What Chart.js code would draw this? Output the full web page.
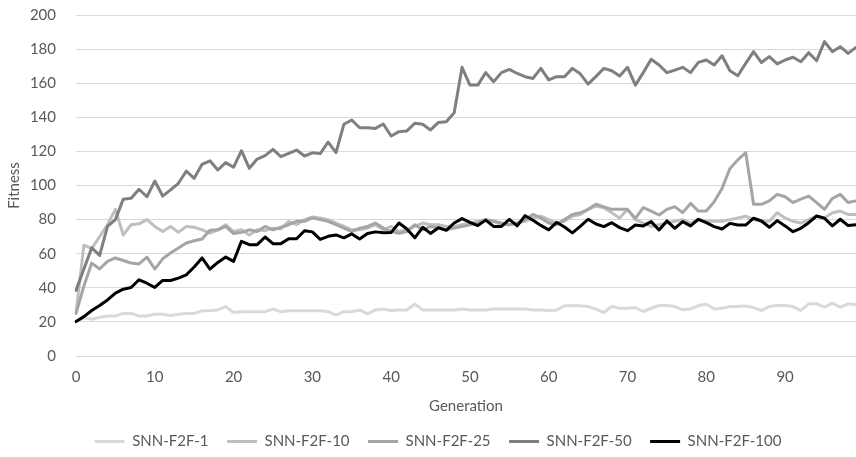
<!DOCTYPE html>
<html>
<head>
<meta charset="utf-8">
<title>Fitness by generation</title>
<script src="https://cdn.jsdelivr.net/npm/chart.js@4.4.1/dist/chart.umd.min.js"></script>
<style>
    html, body { margin: 0; padding: 0; background: #fff; overflow: hidden; }
    #wrap { width: 856px; height: 457px; overflow: hidden; }
</style>
</head>
<body>
<div id="wrap"><canvas id="fitnessChart" width="860" height="457"></canvas></div>
<script>
// Generations 0..99 (x categories)
const generations = Array.from({ length: 100 }, (_, i) => i);

// Series values
const snn1 = [20, 22.5, 21.6, 22.7, 23.5, 23.5, 25, 25, 23.5, 23.5, 24.5, 24.5, 23.7, 24.5, 25, 25, 26.5, 26.5, 27, 29,
    25.5, 26, 26, 26, 26, 27.5, 26, 26.5, 26.5, 26.5, 26.5, 26.5, 26, 24, 26, 26, 27, 24.7, 27, 27.5,
    26.7, 27, 27, 30.5, 27, 27, 27, 27, 27, 27.5, 27, 27, 27, 27.5, 27.6, 27.5, 27.5, 27.5, 27, 27,
    26.7, 27, 29.4, 29.4, 29.4, 29, 27.5, 25.5, 29, 28, 28, 28.4, 26.1, 28, 29.6, 29.6, 29, 27.1, 27.6, 29.6,
    30.4, 27.6, 28, 29, 29, 29.4, 28.4, 26.7, 29, 29.6, 29.6, 29, 26.7, 30.6, 30.6, 28.6, 31, 28.6, 30.6, 30];

const snn10 = [25, 65, 63, 70, 77, 86, 71, 77, 77.5, 80, 76, 73, 76, 72.5, 76, 75.5, 74, 72, 74, 77,
    73, 74, 71, 74, 73.5, 75, 74.5, 79, 77, 80, 81.6, 81, 80, 78, 76, 74, 74, 75, 77, 74,
    76, 73, 74, 76, 78, 77, 77, 76, 76, 77, 78, 79, 80, 79, 77, 77, 78, 79, 81, 82,
    80, 78, 79, 82, 83, 86, 88, 87, 84, 81, 86, 80, 78, 76, 77, 78, 79, 80, 78, 80,
    79, 79, 79, 80, 81, 82, 80, 79, 79, 84, 81, 79, 78, 80, 82, 81, 84, 85, 83, 83];

const snn25 = [25, 41, 54.5, 51, 55.5, 57.5, 56, 54.5, 54, 58, 51, 57, 60.4, 63.3, 66.3, 67.6, 68.6, 73.7, 74, 76,
    71.8, 72.5, 74, 73, 76, 74, 75.5, 77, 79, 79, 81, 80, 79, 77, 75, 73, 75, 76, 78, 75,
    73, 72, 73, 77, 74, 76, 75, 74, 75, 76, 77, 78, 80, 79, 78, 77, 78, 80, 83, 81,
    78, 77, 80, 83, 84, 86, 89, 87.5, 86, 86, 86, 80.7, 87, 85, 82.7, 86, 87.6, 84.1, 89.5, 85,
    85, 90.5, 98.3, 110, 115, 119.3, 89, 89, 91, 94.8, 93.4, 90, 92, 93.8, 90, 86, 92.4, 94.8, 90, 91];

const snn50 = [38.5, 51, 63.5, 59, 76, 80, 92, 92.5, 97.8, 93.4, 102.6, 93.8, 97.4, 101.3, 108.5, 104.2, 112.4, 114.5, 109.1, 113.4,
    110.7, 120.4, 110.1, 115.5, 117.5, 121.2, 116.9, 118.9, 120.8, 117.3, 119.2, 118.7, 125.5, 119.3, 135.9, 138.4, 133.9, 133.9, 133.5, 136.1,
    129, 131.6, 132, 136.5, 135.9, 132.6, 137, 137.4, 142.7, 169.3, 158.9, 158.9, 166.2, 160.9, 166.2, 168.1, 165.7, 163.8, 162.8, 168.7,
    161.9, 163.8, 163.8, 168.7, 165.5, 159.5, 164, 168.7, 167.3, 164.2, 169.3, 158.9, 166.2, 174, 170.7, 166.2, 167.7, 169.3, 166.2, 172.2,
    173.6, 170.7, 176.1, 167.3, 164.4, 171.6, 178.5, 172.1, 175.6, 171.3, 173.6, 175.2, 172.6, 177.9, 173.2, 184.4, 178.5, 181.4, 177.5, 181];

const snn100 = [20.2, 23.1, 26.7, 29.6, 32.9, 36.9, 39.2, 40.2, 44.7, 42.7, 40.2, 44.3, 44.3, 45.7, 47.6, 52.2, 57.5, 51, 54.9, 58,
    55.5, 67.3, 65.3, 65.3, 69.8, 65.9, 65.9, 68.8, 68.8, 73.5, 72.8, 68.4, 70.2, 71, 69.3, 71.6, 68.6, 71.8, 72.8, 72.3,
    72.5, 78, 74.5, 69.3, 75.5, 71.9, 75.2, 73.7, 78, 80.6, 78.4, 76.5, 79.7, 76, 76, 80.1, 76.3, 82.3, 79.6, 76.6,
    74, 78.4, 75.7, 72.2, 76, 80.2, 77.4, 75.9, 78.2, 75.3, 73.5, 76.8, 76.3, 78.8, 73.9, 79.2, 74.9, 78.8, 76.3, 80.2,
    78.2, 75.9, 74.5, 77.8, 76.8, 76.8, 80.8, 79.2, 75.5, 79.4, 76.3, 72.9, 74.9, 78.2, 82.1, 80.8, 76.3, 80.2, 76.5, 77];

const seriesNames = ['SNN-F2F-1', 'SNN-F2F-10', 'SNN-F2F-25', 'SNN-F2F-50', 'SNN-F2F-100'];
const seriesColors = ['#d9d9d9', '#bfbfbf', '#a5a5a5', '#7f7f7f', '#000000'];
const seriesValues = [snn1, snn10, snn25, snn50, snn100];

const yTicks = { min: 0, max: 200, step: 20 };
const xLabelStep = 10;

const textColor = '#595959';
const gridColor = '#d9d9d9';
const baseFont = { family: 'Lato, "Open Sans", sans-serif', size: 15 };

// legend in the original sits a little right of and below the default spot
const legendShift = {
    id: 'legendShift',
    afterLayout: function(chart) {
        chart.legend.left += 8;
        chart.legend.right += 8;
        chart.legend.top += 2;
        chart.legend.bottom += 2;
    }
};

document.addEventListener('DOMContentLoaded', function() {
    const ctx = document.getElementById('fitnessChart');

    const datasets = seriesNames.map(function(name, i) {
        return {
            label: name,
            data: seriesValues[i],
            borderColor: seriesColors[i],
            backgroundColor: seriesColors[i],
            borderWidth: 3,
            pointRadius: 0,
            tension: 0,
            borderJoinStyle: 'round',
            borderCapStyle: 'round',
            // later series drawn on top, like the original
            order: seriesNames.length - i
        };
    });

    new Chart(ctx, {
        type: 'line',
        data: {
            labels: generations,
            datasets: datasets
        },
        plugins: [legendShift],
        options: {
            responsive: false,
            animation: false,
            layout: { padding: { top: 15, right: 0, bottom: 0, left: 0 } },
            plugins: {
                tooltip: { enabled: false },
                legend: {
                    position: 'bottom',
                    labels: {
                        color: textColor,
                        font: baseFont,
                        boxWidth: 30,
                        boxHeight: 3,
                        padding: 18.5,
                        sort: function(a, b) { return a.datasetIndex - b.datasetIndex; },
                        generateLabels: function(chart) {
                            return Chart.defaults.plugins.legend.labels.generateLabels(chart).map(function(item) {
                                item.fillStyle = item.strokeStyle;
                                item.lineWidth = 0;
                                return item;
                            });
                        }
                    }
                }
            },
            scales: {
                x: {
                    type: 'category',
                    grid: { display: false },
                    border: { display: false },
                    ticks: {
                        color: textColor,
                        font: baseFont,
                        autoSkip: false,
                        maxRotation: 0,
                        minRotation: 0,
                        padding: 4,
                        callback: function(value, index) {
                            return index % xLabelStep === 0 ? this.getLabelForValue(value) : '';
                        }
                    },
                    title: {
                        display: true,
                        text: 'Generation',
                        color: textColor,
                        font: baseFont,
                        padding: { top: 0, bottom: -1.5 }
                    },
                    afterFit: function(scale) { scale.height = 57.5; }
                },
                y: {
                    min: yTicks.min,
                    max: yTicks.max,
                    grid: { color: gridColor, lineWidth: 1, drawTicks: false },
                    border: { display: false },
                    ticks: {
                        stepSize: yTicks.step,
                        color: textColor,
                        font: baseFont,
                        padding: 20
                    },
                    title: {
                        display: true,
                        text: 'Fitness',
                        color: textColor,
                        font: baseFont,
                        padding: { top: 5, bottom: 0 }
                    },
                    afterFit: function(scale) {
                        scale.width = 76;
                        // tick padding would otherwise push the plot top down
                        scale.paddingTop = 0;
                        scale.paddingBottom = 0;
                    }
                }
            }
        }
    });
});
</script>
</body>
</html>
